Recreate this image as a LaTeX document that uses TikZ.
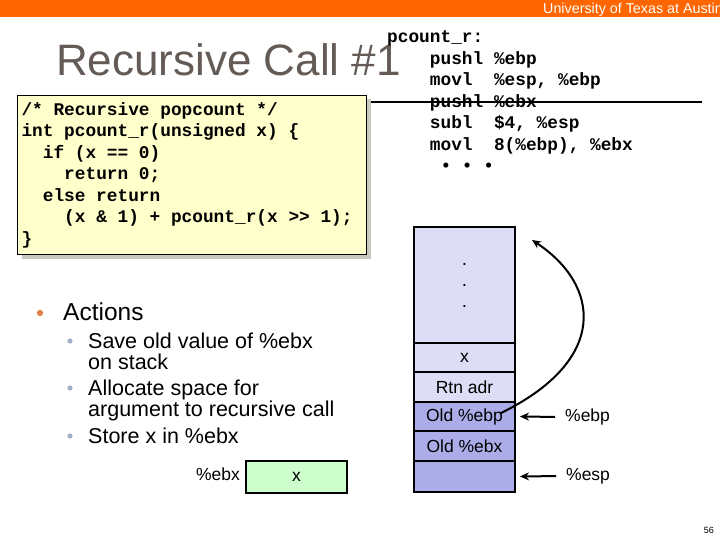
\documentclass[tikz,border=0pt]{standalone}
\usepackage{fontspec}
\setmainfont{Liberation Sans}
\newfontfamily\codefont{Liberation Mono}
\usepackage{xcolor}
\usepackage{tikz}
\usetikzlibrary{arrows.meta,positioning,shadows}
\definecolor{utorange}{RGB}{255,102,0}
\definecolor{titlegrey}{RGB}{100,90,86}
\definecolor{codeyellow}{RGB}{255,255,204}
\definecolor{shadowgrey}{RGB}{200,200,188}
\definecolor{stacklite}{RGB}{221,221,246}
\definecolor{stackdark}{RGB}{172,172,232}
\definecolor{reggreen}{RGB}{204,255,204}
\definecolor{dotorange}{RGB}{222,130,72}
\definecolor{dotgrey}{RGB}{160,176,196}
\newcommand{\ind}[1]{\phantom{#1}}
\newcommand{\monospace}{\fontdimen2\font=0.6em\fontdimen3\font=0pt\fontdimen4\font=0pt}

\begin{document}
\begin{tikzpicture}[
  x=1pt, y=-1pt,
  code/.style={font=\codefont\bfseries\fontsize{17.8}{21.5}\selectfont\monospace, align=left, inner sep=0pt},
  lbl/.style={font=\fontsize{17.5}{20}\selectfont, inner sep=0pt},
  cell/.style={draw, line width=2pt, outer sep=0pt, inner sep=0pt, minimum width=101pt, font=\fontsize{17.5}{20}\selectfont},
  lite/.style={cell, fill=stacklite},
  dark/.style={cell, fill=stackdark},
  item/.style={font=\fontsize{21.5}{21}\selectfont, align=left, inner sep=0pt, anchor=base west},
  ar/.style={-{Stealth[length=9pt, width=8pt]}, line width=2pt}
]
\useasboundingbox (0,0) rectangle (720,540);
% header bar
\fill[utorange] (0,0) rectangle (720,17);
\node[anchor=base west, inner sep=0pt, text=white, font=\fontsize{14.3}{14}\selectfont] (uni) at (543,14) {University of Texas at Austin};
\node[anchor=base west, inner sep=0pt, text=titlegrey, font=\fontsize{44}{44}\selectfont] (title) at (56,76) {Recursive Call \#1};

% C source
\node[code, draw=black, line width=1pt, fill=codeyellow, text width=341pt, inner xsep=4pt, minimum height=159pt, anchor=north west,
  drop shadow={shadow xshift=4pt, shadow yshift=-4pt, fill=shadowgrey, opacity=1}] (src) at (17,95) {%
\spaceskip=0.6em\relax
/* Recursive popcount */\\
int pcount\_r(unsigned x) \{\\
\ind{xx}if (x == 0)\\
\ind{xxxx}return 0;\\
\ind{xx}else return\\
\ind{xxxx}(x \& 1) + pcount\_r(x >> 1);\\
\}};

% assembly (base = last line)
\node[code, anchor=base west] (asm) at (387,172) {%
pcount\_r:\\
\ind{xxxx}pushl \%ebp\\
\ind{xxxx}movl~~\%esp, \%ebp\\
\ind{xxxx}pushl \%ebx\\
\ind{xxxx}subl~~\$4, \%esp\\
\ind{xxxx}movl~~8(\%ebp), \%ebx\\
\ind{xxxxx}\textbullet~\textbullet~\textbullet};
\draw[line width=2pt] (371,102) -- (702,102);

% actions
\fill[dotorange] (40,313) circle (3.2);
\node[anchor=base west, inner sep=0pt, font=\fontsize{24.5}{24}\selectfont] (act) at (63,320) {Actions};
\fill[dotgrey] (70,341) circle (2.6);
\fill[dotgrey] (70,388) circle (2.6);
\fill[dotgrey] (70,436) circle (2.6);
\node[item] (save) at (88,369) {Save old value of \%ebx\\on stack};
\node[item] (alloc) at (88,416) {Allocate space for\\argument to recursive call};
\node[item] (store) at (88,443) {Store x in \%ebx};

% register
\node[draw, line width=2.5pt, fill=reggreen, minimum width=101pt, minimum height=32pt, inner sep=0pt,
  font=\fontsize{17.5}{20}\selectfont] (ebx) at (296.5,477) {x};
\node[lbl, anchor=east] (ebxlab) at (240,474) {\%ebx};

% stack
\node[lite, anchor=north, minimum height=116pt, align=center, font=\fontsize{19}{21}\selectfont] (top) at (464.5,227) {.\\.\\.};
\node[lite, below=0pt of top, minimum height=29pt] (xarg) {x};
\node[lite, below=0pt of xarg, minimum height=30pt] (rtn) {Rtn adr};
\node[dark, below=0pt of rtn, minimum height=29pt] (oldebp) {Old \%ebp};
\node[dark, below=0pt of oldebp, minimum height=30pt] (oldebx) {Old \%ebx};
\node[dark, below=0pt of oldebx, minimum height=31pt] (spot) {};

\node[lbl, anchor=west] (ebplab) at (565,417) {\%ebp};
\node[lbl, anchor=west] (esplab) at (566,476) {\%esp};
\draw[ar, shorten <=10pt, shorten >=5pt] (ebplab.west) -- (oldebp.east);
\draw[ar, shorten <=10pt, shorten >=5pt] (esplab.west) -- (spot.east);

\coordinate (link) at (532,240);
\draw[ar] ([xshift=-15pt, yshift=3pt]oldebp.east) .. controls (610,360) and (600,285) .. (link);

\node[anchor=base east, inner sep=0pt, font=\fontsize{9}{9}\selectfont] (page) at (714,533) {56};
\end{tikzpicture}
\end{document}
